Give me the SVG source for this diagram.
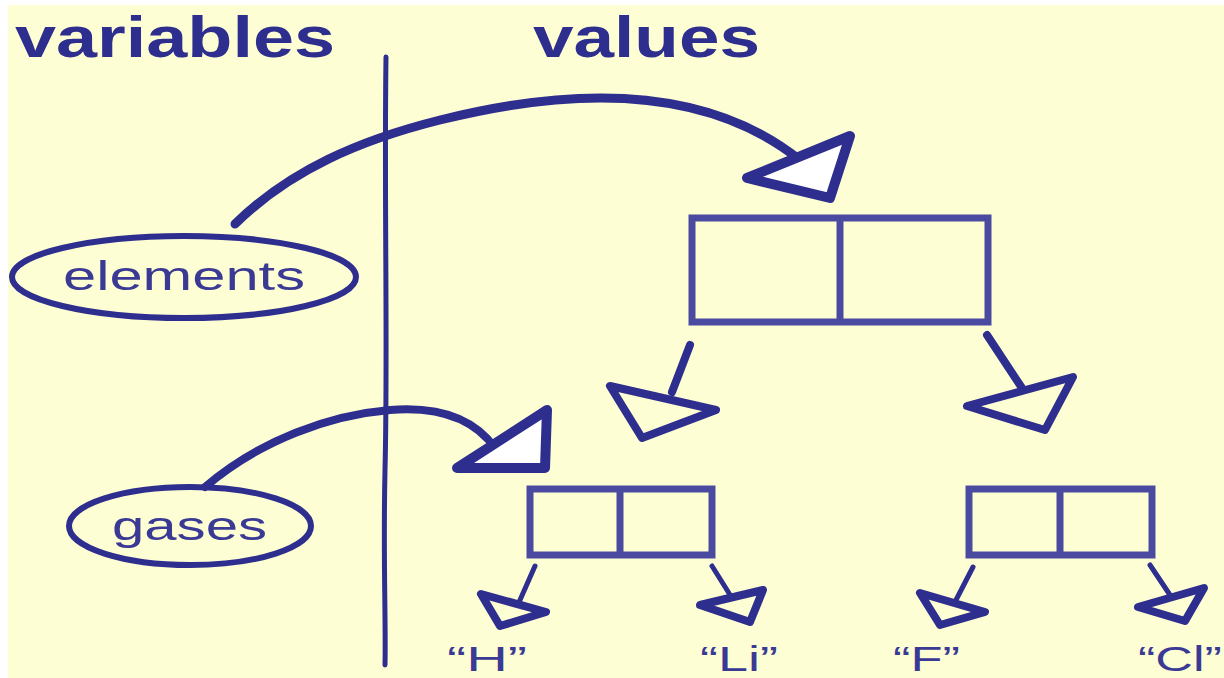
<svg xmlns="http://www.w3.org/2000/svg" width="1224" height="678" viewBox="0 0 1224 678">
<style>
.ink{fill:none;stroke:#2e2e8e;stroke-linecap:round;stroke-linejoin:round}
.head{fill:#fefed4;stroke:#2e2e8e;stroke-width:8;stroke-linejoin:round}
.headw{fill:#ffffff;stroke:#2e2e8e;stroke-width:10;stroke-linejoin:round}
.box{fill:none;stroke:#4a4aa0;stroke-width:7}
.title{font-family:"Liberation Sans",Arial,sans-serif;font-weight:bold;fill:#2e2e8e}
.lbl{font-family:"Liberation Sans",Arial,sans-serif;fill:#3a3a95}
</style>
<rect x="0" y="0" width="1224" height="678" fill="#ffffff"/>
<rect x="8" y="5" width="1216" height="673" fill="#fefed4"/>
<text class="title" x="15" y="57" font-size="57" textLength="320" lengthAdjust="spacingAndGlyphs">variables</text>
<text class="title" x="533" y="57" font-size="57" textLength="227" lengthAdjust="spacingAndGlyphs">values</text>
<path class="ink" d="M386 57 C384 200 388 350 385 470 C383 560 386 620 385 665" stroke-width="5"/>
<g id="connectors">
<path class="ink" stroke-width="9" d="M235 224 C290 170 360 140 440 120 C560 90 700 80 800 160"/>
<path class="ink" stroke-width="8" d="M205 487 C260 440 330 415 390 410 C440 406 475 420 495 448"/>
<path class="ink" stroke-width="8" d="M690 345 L672 392"/>
<path class="ink" stroke-width="8" d="M987 335 L1022 388"/>
<path class="ink" stroke-width="5" d="M535 566 L520 600"/>
<path class="ink" stroke-width="5" d="M712 566 L732 598"/>
<path class="ink" stroke-width="5" d="M973 567 L956 600"/>
<path class="ink" stroke-width="5" d="M1150 565 L1170 595"/>
</g>
<g id="elements">
<ellipse class="ink" cx="184" cy="277" rx="172" ry="41" stroke-width="6"/>
<text class="lbl" x="63" y="290" font-size="40" textLength="242" lengthAdjust="spacingAndGlyphs">elements</text>
</g>
<g id="gases">
<ellipse class="ink" cx="190" cy="526" rx="121" ry="39" stroke-width="6"/>
<text class="lbl" x="112" y="540" font-size="40" textLength="155" lengthAdjust="spacingAndGlyphs">gases</text>
</g>
<g id="arrowheads">
<polygon class="headw" points="747,178 850,136 830,198"/>
<polygon class="headw" points="457,468 547,410 545,468"/>
<polygon class="head" points="610,386 716,410 642,438"/>
<polygon class="head" points="967,406 1073,377 1045,430"/>
<polygon class="head" stroke-width="5" points="481,594 546,612 500,626"/>
<polygon class="head" stroke-width="5" points="700,605 763,590 750,622"/>
<polygon class="head" stroke-width="5" points="920,593 985,612 940,625"/>
<polygon class="head" stroke-width="5" points="1138,607 1204,588 1185,621"/>
</g>
<g id="cell-root">
<rect class="box" x="692" y="218" width="296" height="104"/>
<line class="box" x1="840" y1="218" x2="840" y2="322"/>
</g>
<g id="cell-left">
<rect class="box" x="530" y="489" width="182" height="66" stroke-width="5"/>
<line class="box" x1="620" y1="489" x2="620" y2="555" stroke-width="5"/>
</g>
<g id="cell-right">
<rect class="box" x="969" y="489" width="183" height="66" stroke-width="5"/>
<line class="box" x1="1060" y1="489" x2="1060" y2="555" stroke-width="5"/>
</g>
<g id="values">
<text class="lbl" x="447" y="671" font-size="35" textLength="80" lengthAdjust="spacingAndGlyphs">“H”</text>
<text class="lbl" x="700" y="671" font-size="35" textLength="78" lengthAdjust="spacingAndGlyphs">“Li”</text>
<text class="lbl" x="893" y="671" font-size="35" textLength="67" lengthAdjust="spacingAndGlyphs">“F”</text>
<text class="lbl" x="1138" y="671" font-size="35" textLength="84" lengthAdjust="spacingAndGlyphs">“Cl”</text>
</g>
</svg>
